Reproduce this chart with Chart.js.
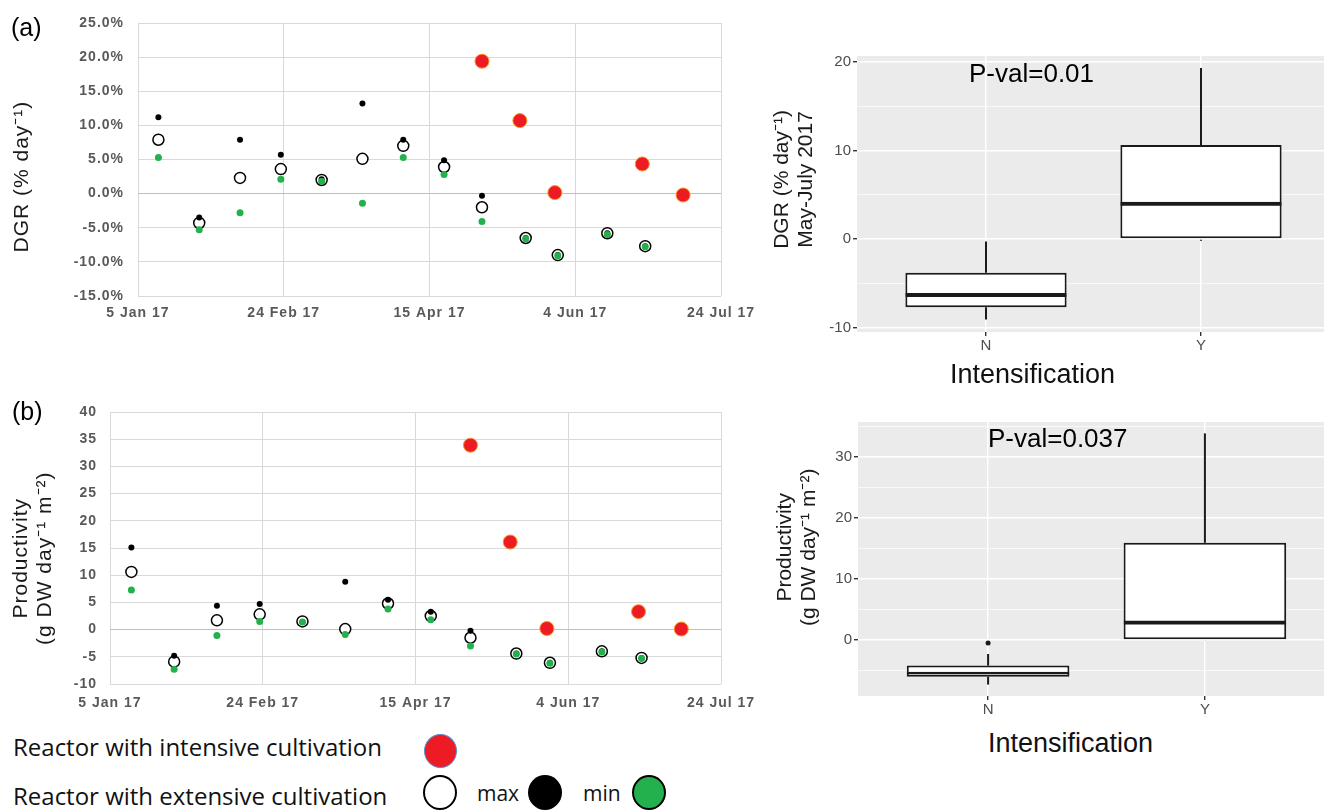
<!DOCTYPE html>
<html lang="en">
<head>
<meta charset="UTF-8">
<title>DGR and productivity of the reactors</title>
<script src="https://cdn.jsdelivr.net/npm/chart.js"></script>
<style>
  body { margin: 0; width: 1324px; height: 810px; overflow: hidden; background: #fff; position: relative;
         font-family: 'Liberation Sans', Arial, sans-serif; }
  .wrap { position: absolute; }
  .lbl { position: absolute; white-space: nowrap; color: #000; }
  .leg { font-family: 'Open Sans', sans-serif; font-size: 21px; line-height: 26px; color: #111; }
  .big { font-size: 24px; line-height: 30px; }
  .dot { position: absolute; box-sizing: border-box; border-radius: 50%; }
</style>
</head>
<body>
<div class="wrap" style="left:0;top:0;width:770px;height:330px"><canvas id="dgrTime"></canvas></div>
<div class="wrap" style="left:0;top:390px;width:770px;height:330px"><canvas id="prodTime"></canvas></div>
<div class="wrap" style="left:760px;top:40px;width:570px;height:322px"><canvas id="dgrBox"></canvas></div>
<div class="wrap" style="left:760px;top:410px;width:579px;height:316px"><canvas id="prodBox"></canvas></div>

<!-- panel letters and annotations -->
<div class="lbl" style="left:11px;top:13px;font-size:25px;line-height:28px">(a)</div>
<div class="lbl" style="left:12px;top:397px;font-size:25px;line-height:28px">(b)</div>
<div class="lbl" style="left:969px;top:58px;font-size:26px;line-height:30px">P-val=0.01</div>
<div class="lbl" style="left:988px;top:423px;font-size:26px;line-height:30px">P-val=0.037</div>
<div class="lbl" style="left:950px;top:359px;font-size:27px;line-height:30px;color:#111">Intensification</div>
<div class="lbl" style="left:988px;top:728px;font-size:27px;line-height:30px;color:#111">Intensification</div>

<!-- legend -->
<div class="lbl leg big" style="left:13px;top:732px">Reactor with intensive cultivation</div>
<div class="lbl leg big" style="left:13px;top:781px">Reactor with extensive cultivation</div>
<div class="dot" style="left:424px;top:734px;width:33px;height:34px;background:#ed1c24;border:1px solid #5b8fd0"></div>
<div class="dot" style="left:423px;top:775px;width:34px;height:35px;background:#fff;border:2px solid #000"></div>
<div class="lbl leg" style="left:477px;top:780px">max</div>
<div class="dot" style="left:528px;top:775px;width:34px;height:35px;background:#000"></div>
<div class="lbl leg" style="left:583px;top:780px">min</div>
<div class="dot" style="left:632px;top:775px;width:34px;height:35px;background:#22b14c;border:2px solid #000"></div>

<script>
// x positions are days since 5 Jan 17
const tickDates = ['5 Jan 17', '24 Feb 17', '15 Apr 17', '4 Jun 17', '24 Jul 17'];
const extDays = [7, 21, 35, 49, 63, 77, 91, 105, 118, 133, 144, 161, 174];
const intDays = [118, 131, 143, 173, 187];

// (a) DGR, % per day
const dgrMean = [7.9, -4.3, 2.3, 3.6, 2.0, 5.1, 7.0, 3.9, -2.0, -6.5, -9.0, -5.8, -7.7];
const dgrMax  = [11.2, -3.5, 7.9, 5.7, 2.1, 13.2, 7.9, 4.9, -0.3, -6.5, -9.0, -5.8, -7.7];
const dgrMin  = [5.3, -5.3, -2.8, 2.1, 1.8, -1.4, 5.3, 2.8, -4.1, -6.6, -9.1, -6.0, -7.8];
const dgrInt  = [19.4, 10.7, 0.15, 4.35, -0.2];

// (b) productivity, g DW per day per m2
const prodMean = [10.6, -5.9, 1.7, 2.8, 1.5, 0.1, 4.8, 2.5, -1.5, -4.4, -6.1, -4.0, -5.2];
const prodMax  = [15.1, -4.8, 4.4, 4.7, 1.4, 8.8, 5.5, 3.3, -0.2, -4.4, -6.1, -4.0, -5.2];
const prodMin  = [7.3, -7.3, -1.1, 1.5, 1.4, -0.9, 3.8, 1.8, -3.0, -4.5, -6.2, -4.1, -5.3];
const prodInt  = [33.9, 16.1, 0.2, 3.3, 0.1];

// box plots, May-July 2017
const boxCats = ['N', 'Y'];
const dgrBoxMin = [-9.1, -0.2];
const dgrBoxQ1  = [-7.7, 0];
const dgrBoxMed = [-6.1, 4.2];
const dgrBoxQ3  = [-3.8, 10.6];
const dgrBoxMax = [-0.3, 19.3];
const prodBoxMin = [-7.3, -0.1];
const prodBoxQ1  = [-6.0, 0];
const prodBoxMed = [-5.2, 3.2];
const prodBoxQ3  = [-4.2, 15.9];
const prodBoxMax = [-2.3, 33.8];
const prodOutN = [-0.5];

Chart.defaults.font.family = "'Liberation Sans', Arial, sans-serif";

const panelBg = {
  id: 'panelBg',
  beforeDraw(chart, args, opts) {
    if (!opts.color) return;
    const { ctx, chartArea: a } = chart;
    ctx.save();
    ctx.fillStyle = opts.color;
    ctx.fillRect(a.left, a.top, a.width, a.height);
    ctx.restore();
  }
};

// the Excel panels have slightly spaced-out lettering
const spacing = {
  id: 'spacing',
  beforeDraw(chart, args, opts) { chart.ctx.letterSpacing = opts.value || '0px'; },
  afterDraw(chart) { chart.ctx.letterSpacing = '0px'; }
};

// pad a rotated title with spaces to nudge it along the axis
const nudge = (text, n) => {
  const pad = ' '.repeat(Math.abs(n));
  const f = t => (n > 0 ? t + pad : pad + t);
  return Array.isArray(text) ? text.map(f) : f(text);
};

const pts = (xs, ys) => xs.map((x, i) => ({ x: x, y: ys[i] }));
const tickFont = { size: 14, weight: 'bold' };

function timeChart(id, o) {
  return new Chart(document.getElementById(id), {
    type: 'scatter',
    data: {
      datasets: [
        { data: pts(intDays, o.int), backgroundColor: '#ed1c24', borderColor: '#f7931e', borderWidth: 1, pointRadius: 7, order: 0 },
        { data: pts(extDays, o.min), backgroundColor: '#22b14c', borderWidth: 0, pointRadius: 3.5, order: 1 },
        { data: pts(extDays, o.max), backgroundColor: '#000', borderWidth: 0, pointRadius: 3, order: 2 },
        { data: pts(extDays, o.mean), backgroundColor: '#fff', borderColor: '#000', borderWidth: 1.5, pointRadius: 5.5, order: 3 }
      ]
    },
    plugins: [spacing],
    options: {
      responsive: true, maintainAspectRatio: false, animation: false, devicePixelRatio: 1, events: [],
      layout: { padding: { top: o.padTop, right: 49, left: 0, bottom: 0 } },
      plugins: { legend: { display: false }, tooltip: { enabled: false }, spacing: { value: '1px' } },
      scales: {
        x: {
          type: 'linear', min: 0, max: 200,
          afterFit: s => { s.height = o.xH; },
          ticks: { stepSize: 50, autoSkip: false, maxRotation: 0, padding: o.xPad, color: '#595959', font: tickFont,
                   callback: v => tickDates[Math.round(v / 50)] },
          grid: { color: '#d9d9d9', drawTicks: false },
          border: { display: false }
        },
        y: {
          min: o.yMin, max: o.yMax,
          afterFit: s => { s.width = o.yW; },
          ticks: { stepSize: 5, padding: o.yPad, color: '#595959', font: tickFont, callback: o.fmt },
          grid: { color: c => (c.tick && c.tick.value === 0 ? '#bfbfbf' : '#d9d9d9'), drawTicks: false },
          border: { display: false },
          title: { display: true, text: o.title, color: '#1a1a1a', font: { size: 21, lineHeight: 1.15 },
                   padding: { top: o.tPad, bottom: 0 } }
        }
      }
    }
  });
}

function boxChart(id, o) {
  const stroke = '#1a1a1a';
  const ds = [
    { type: 'bar', data: boxCats.map((c, i) => ({ x: i + 1, y: [o.q3[i], o.max[i]] })),
      backgroundColor: stroke, maxBarThickness: 2, grouped: false, order: 4 },
    { type: 'bar', data: boxCats.map((c, i) => ({ x: i + 1, y: [o.min[i], o.q1[i]] })),
      backgroundColor: stroke, maxBarThickness: 2, grouped: false, order: 4 },
    { type: 'bar', data: boxCats.map((c, i) => ({ x: i + 1, y: [o.q1[i], o.q3[i]] })),
      backgroundColor: '#fff', borderColor: stroke, borderWidth: 2, borderSkipped: false,
      barPercentage: 0.75, categoryPercentage: 1, grouped: false, order: 2 },
    { type: 'bar', data: boxCats.map((c, i) => ({ x: i + 1, y: [o.q1[i], o.med[i]] })),
      backgroundColor: 'rgba(0,0,0,0)', borderColor: stroke, borderWidth: { top: 4, left: 0, right: 0, bottom: 0 },
      borderSkipped: false, barPercentage: 0.75, categoryPercentage: 1, grouped: false, order: 1 }
  ];
  if (o.out) {
    ds.push({ type: 'scatter', data: o.out.map(v => ({ x: 1, y: v })), backgroundColor: stroke,
              borderWidth: 0, pointRadius: 2.5, order: 0 });
  }
  const major = c => c.tick && c.tick.value % 10 === 0;
  return new Chart(document.getElementById(id), {
    type: 'bar',
    data: { datasets: ds },
    plugins: [panelBg],
    options: {
      responsive: true, maintainAspectRatio: false, animation: false, devicePixelRatio: 1, events: [],
      layout: { padding: { top: o.padTop, left: 0, right: 0, bottom: 0 } },
      plugins: { legend: { display: false }, tooltip: { enabled: false }, panelBg: { color: '#ebebeb' } },
      scales: {
        x: {
          type: 'linear', min: 0.4, max: 2.6, offset: false,
          afterFit: s => { s.height = 30; },
          ticks: { stepSize: 1, includeBounds: false, autoSkip: false, maxRotation: 0, padding: 1,
                   color: '#4d4d4d', font: { size: 15 }, callback: v => boxCats[v - 1] || '' },
          grid: { offset: false, color: '#fff', lineWidth: 1.4, tickColor: '#333', tickLength: 4 },
          border: { display: false }
        },
        y: {
          min: o.yMin, max: o.yMax,
          afterFit: s => { s.width = o.yW; },
          ticks: { stepSize: 5, includeBounds: false, padding: 2, color: '#4d4d4d', font: { size: 15 },
                   callback: v => (v % 10 === 0 ? v : '') },
          grid: { color: '#fff', lineWidth: c => (major(c) ? 1.4 : 0.7),
                  tickColor: c => (major(c) ? '#333' : 'rgba(0,0,0,0)'), tickLength: 4 },
          border: { display: false },
          title: { display: true, text: o.title, color: '#1a1a1a', font: { size: 21, lineHeight: 1.15 },
                   padding: { top: o.tPad, bottom: 0 } }
        }
      }
    }
  });
}

timeChart('dgrTime', {
  mean: dgrMean, max: dgrMax, min: dgrMin, int: dgrInt,
  yMin: -15, yMax: 25, fmt: v => v.toFixed(1) + '%',
  title: nudge('DGR (% day\u207B\u00B9)', 5),
  padTop: 23, xH: 34, xPad: 9, yW: 138, yPad: 14, tPad: 10
});

timeChart('prodTime', {
  mean: prodMean, max: prodMax, min: prodMin, int: prodInt,
  yMin: -10, yMax: 40, fmt: v => v,
  title: nudge(['Productivity', '(g DW day\u207B\u00B9 m\u207B\u00B2)'], 3),
  padTop: 22, xH: 36, xPad: 11, yW: 110, yPad: 13, tPad: 9
});

boxChart('dgrBox', {
  min: dgrBoxMin, q1: dgrBoxQ1, med: dgrBoxMed, q3: dgrBoxQ3, max: dgrBoxMax,
  yMin: -10.5, yMax: 20.65,
  title: nudge(['DGR (% day\u207B\u00B9)', 'May-July 2017'], -5),
  padTop: 16, yW: 97, tPad: 10
});

boxChart('prodBox', {
  min: prodBoxMin, q1: prodBoxQ1, med: prodBoxMed, q3: prodBoxQ3, max: prodBoxMax, out: prodOutN,
  yMin: -9.17, yMax: 35.66,
  title: nudge(['Productivity', '(g DW day\u207B\u00B9 m\u207B\u00B2)'], -4),
  padTop: 12, yW: 98, tPad: 13
});
</script>
</body>
</html>
